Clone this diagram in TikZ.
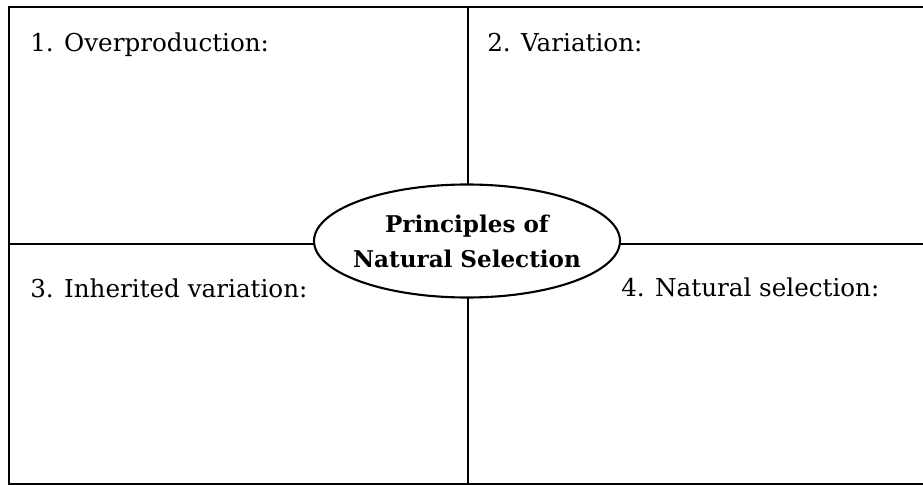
\documentclass[tikz,border=0pt]{standalone}
\usepackage{fontspec}
\setmainfont{DejaVu Serif}
\usetikzlibrary{shapes.geometric}
\begin{document}
\begin{tikzpicture}[x=0.025cm,y=-0.025cm,
  frame/.style={line width=1.5pt,black},
  label/.style={anchor=base west,inner sep=0pt,font=\fontsize{17.5}{20}\selectfont},
  hub/.style={ellipse,draw,line width=1.5pt,fill=white,minimum width=306*0.025cm,minimum height=113*0.025cm,inner xsep=-4.5pt,inner ysep=0pt,align=center,font=\bfseries\fontsize{16.4}{25}\selectfont}]
\useasboundingbox (0,0) rectangle (923,486);
\coordinate (tl) at (9,7);
\coordinate (tr) at (924,7);
\coordinate (bl) at (9,484);
\coordinate (br) at (924,484);
\coordinate (mt) at (468,7);
\coordinate (mb) at (468,484);
\coordinate (ml) at (9,244);
\coordinate (mr) at (924,244);
\draw[frame] (tr) -- (tl) -- (bl) -- (br);
\draw[frame] (mt) -- (mb);
\draw[frame] (ml) -- (mr);
\node[hub] (c) at (467,241) {Principles of\\Natural Selection};
\node[label] (q1) at (30,52) {1. Overproduction:};
\node[label] (q2) at (487,52) {2. Variation:};
\node[label] (q3) at (30,297) {3. Inherited variation:};
\node[label] (q4) at (621,296) {4. Natural selection:};
\end{tikzpicture}
\end{document}
